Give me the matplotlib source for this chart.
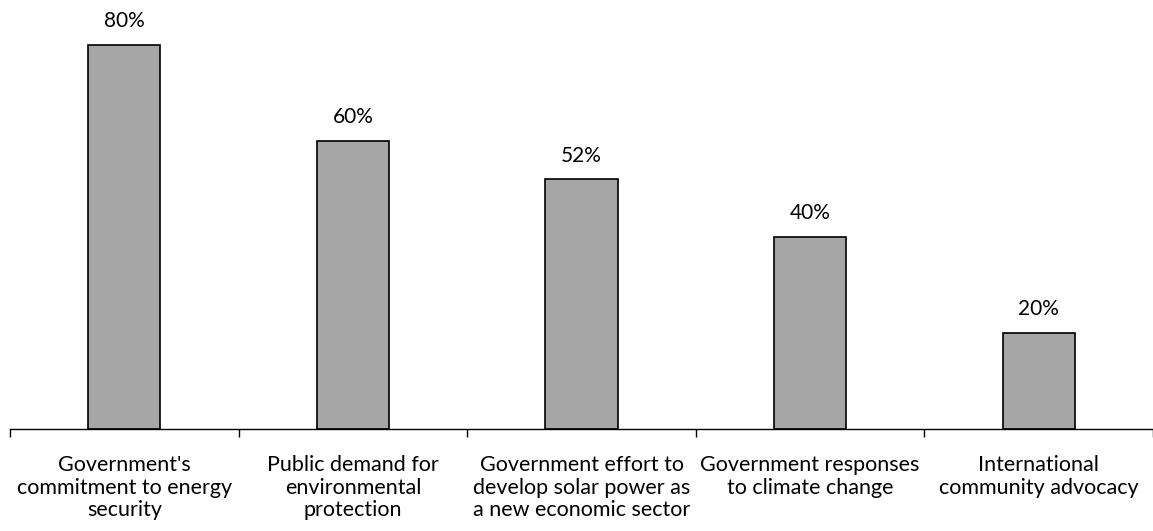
import matplotlib.pyplot as plt
import numpy as np

categories = [
    "Government's\ncommitment to energy\nsecurity",
    "Public demand for\nenvironmental\nprotection",
    "Government effort to\ndevelop solar power as\na new economic sector",
    "Government responses\nto climate change",
    "International\ncommunity advocacy",
]
values = [80, 60, 52, 40, 20]

plt.rcParams['font.family'] = ['Lato', 'DejaVu Sans']

fig = plt.figure(figsize=(11.53, 5.31), dpi=100)
ax = fig.add_axes([10 / 1153, 102 / 531, 1143 / 1153, 429 / 531])

x = np.arange(len(categories))
bars = ax.bar(x, values, width=0.315, color='#A6A6A6', edgecolor='black', linewidth=1.2)

for rect, v in zip(bars, values):
    ax.annotate(f"{v}%", (rect.get_x() + rect.get_width() / 2, v),
                xytext=(0, 10), textcoords='offset points',
                ha='center', va='bottom', fontsize=15)

ax.set_xlim(-0.5, len(categories) - 0.5)
ax.set_ylim(0, 89.4)
ax.set_yticks([])

# ticks between categories, labels centered under bars
ax.set_xticks(np.arange(len(categories) + 1) - 0.5)
ax.set_xticklabels([])
ax.set_xticks(x, minor=True)
ax.set_xticklabels(categories, minor=True, fontsize=15.5, linespacing=1.15)
ax.tick_params(axis='x', which='major', direction='out', length=6, width=1)
ax.tick_params(axis='x', which='minor', length=0, pad=19)

for s in ['top', 'right', 'left']:
    ax.spines[s].set_visible(False)
ax.spines['bottom'].set_linewidth(1)

fig.savefig('out.png', dpi=100)
